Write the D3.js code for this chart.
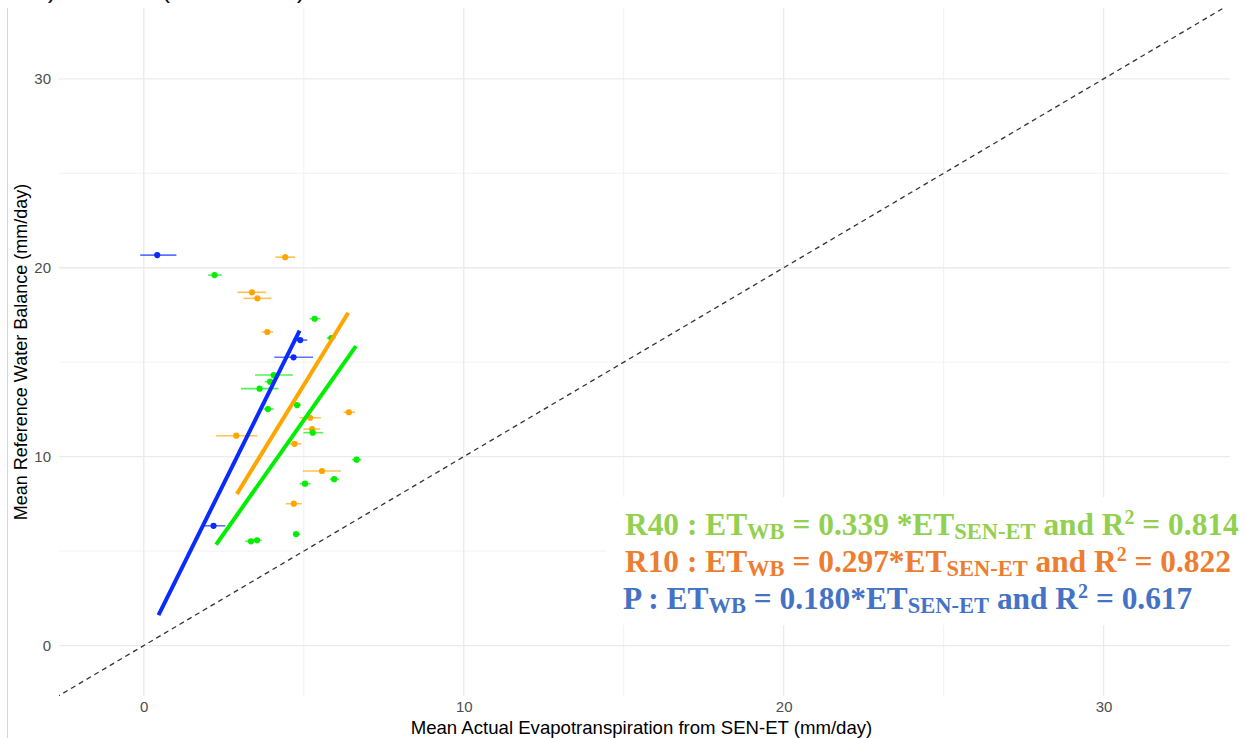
<!DOCTYPE html>
<html>
<head>
<meta charset="utf-8">
<script src="https://cdn.jsdelivr.net/npm/d3@7"></script>
<style>
  html, body { margin: 0; padding: 0; background: #fff; }
  svg { display: block; }
</style>
</head>
<body>
<svg id="chart" width="1246" height="738"></svg>
<script>
// ---- data -------------------------------------------------------------
// P (blue): mean SEN-ET ET, reference water balance ET, x error range
const pX    = [0.42, 4.89, 4.68, 2.18];
const pY    = [20.67, 16.17, 15.26, 6.34];
const pXmin = [-0.11, 4.67, 4.08, 1.82];
const pXmax = [1.02, 5.11, 5.29, 2.55];

// R10 (orange)
const r10X    = [4.42, 3.38, 3.55, 3.86, 6.41, 5.20, 5.26, 2.89, 4.71, 5.57, 4.69];
const r10Y    = [20.56, 18.70, 18.38, 16.60, 12.35, 12.06, 11.46, 11.11, 10.68, 9.24, 7.51];
const r10Xmin = [4.11, 2.93, 3.12, 3.69, 6.24, 4.87, 4.99, 2.26, 4.47, 4.97, 4.44];
const r10Xmax = [4.73, 3.83, 3.99, 4.04, 6.61, 5.54, 5.52, 3.55, 4.93, 6.16, 4.94];

// R40 (green)
const r40X    = [2.21, 5.34, 5.86, 4.06, 3.95, 3.62, 3.88, 4.79, 5.28, 6.65, 5.95, 5.04, 4.76, 3.35, 3.54];
const r40Y    = [19.61, 17.30, 16.28, 14.32, 13.97, 13.60, 12.52, 12.73, 11.27, 9.84, 8.81, 8.57, 5.90, 5.52, 5.57];
const r40Xmin = [2.01, 5.18, 5.72, 3.48, 3.78, 3.04, 3.74, 4.68, 4.99, 6.51, 5.81, 4.87, 4.66, 3.17, 3.41];
const r40Xmax = [2.44, 5.52, 6.00, 4.66, 4.12, 4.21, 4.06, 4.91, 5.60, 6.80, 6.10, 5.21, 4.89, 3.54, 3.69];

// linear fits: [x start, x end] and [y start, y end]
const pFitX   = [0.46, 4.87];
const pFitY   = [1.61, 16.67];
const r10FitX = [2.91, 6.39];
const r10FitY = [8.02, 17.62];
const r40FitX = [2.26, 6.63];
const r40FitY = [5.34, 15.85];

// axes
const xTicks = [0, 10, 20, 30];
const yTicks = [0, 10, 20, 30];
const xMinor = [5, 15, 25];
const yMinor = [5, 15, 25];

const xTitle = "Mean Actual Evapotranspiration from SEN-ET (mm/day)";
const yTitle = "Mean Reference Water Balance (mm/day)";
const plotTitle = "a) All sites (2018-2021)";

// regression equations
const eqNames  = ["R40", "R10", "P"];
const eqSlopes = ["0.339 *", "0.297*", "0.180*"];
const eqR2     = ["0.814", "0.822", "0.617"];

// ---- build ------------------------------------------------------------
const series = [
  { x: r10X, y: r10Y, lo: r10Xmin, hi: r10Xmax, fx: r10FitX, fy: r10FitY, col: "#ffa500", err: "#ffb732" },
  { x: r40X, y: r40Y, lo: r40Xmin, hi: r40Xmax, fx: r40FitX, fy: r40FitY, col: "#00ee00", err: "#33f233" },
  { x: pX,   y: pY,   lo: pXmin,   hi: pXmax,   fx: pFitX,   fy: pFitY,   col: "#0a2bff", err: "#3d5cff" }
];
const eqColors = ["#92d050", "#ed7d31", "#4472c4"];

const svg = d3.select("#chart");
const W = 1246, H = 738;
const panel = { left: 59, right: 1230, top: 8, bottom: 696 };

const x = d3.scaleLinear().domain([-2.65, 33.95]).range([panel.left, panel.right]);
const y = d3.scaleLinear().domain([-2.67, 33.75]).range([panel.bottom, panel.top]);

svg.append("defs").append("clipPath").attr("id", "panel-clip")
  .append("rect")
  .attr("x", panel.left).attr("y", panel.top)
  .attr("width", panel.right - panel.left).attr("height", panel.bottom - panel.top);

// title, mostly above the visible area
svg.append("text")
  .attr("x", 33).attr("y", -2)
  .attr("font-family", "Liberation Sans, Arial, sans-serif")
  .attr("font-size", 26.5)
  .attr("fill", "#111")
  .text(plotTitle);

// outer frame line on the left
svg.append("line")
  .attr("x1", 7.5).attr("x2", 7.5).attr("y1", 8).attr("y2", H)
  .attr("stroke", "#d6d6d6").attr("stroke-width", 1);

// grid
const grid = svg.append("g");
grid.selectAll(".vminor").data(xMinor).join("line")
  .attr("x1", d => x(d)).attr("x2", d => x(d))
  .attr("y1", panel.top).attr("y2", panel.bottom)
  .attr("stroke", "#f2f2f2").attr("stroke-width", 1);
grid.selectAll(".hminor").data(yMinor).join("line")
  .attr("y1", d => y(d)).attr("y2", d => y(d))
  .attr("x1", panel.left).attr("x2", panel.right)
  .attr("stroke", "#f2f2f2").attr("stroke-width", 1);
grid.selectAll(".vmajor").data(xTicks).join("line")
  .attr("x1", d => x(d)).attr("x2", d => x(d))
  .attr("y1", panel.top).attr("y2", panel.bottom)
  .attr("stroke", "#ebebeb").attr("stroke-width", 1.3);
grid.selectAll(".hmajor").data(yTicks).join("line")
  .attr("y1", d => y(d)).attr("y2", d => y(d))
  .attr("x1", panel.left).attr("x2", panel.right)
  .attr("stroke", "#ebebeb").attr("stroke-width", 1.3);

// axes (labels only, as in a minimal theme)
const xAxis = svg.append("g")
  .attr("transform", `translate(0,${panel.bottom})`)
  .call(d3.axisBottom(x).tickValues(xTicks).tickSize(0).tickPadding(5).tickFormat(d3.format("d")));
const yAxis = svg.append("g")
  .attr("transform", `translate(${panel.left - 4},0)`)
  .call(d3.axisLeft(y).tickValues(yTicks).tickSize(0).tickPadding(4).tickFormat(d3.format("d")));
[xAxis, yAxis].forEach(a => {
  a.select(".domain").remove();
  a.selectAll("text")
    .attr("font-family", "Liberation Sans, Arial, sans-serif")
    .attr("font-size", 15)
    .attr("fill", "#4d4d4d");
});

// axis titles
svg.append("text")
  .attr("x", (panel.left + panel.right) / 2 - 3).attr("y", 734)
  .attr("text-anchor", "middle")
  .attr("font-family", "Liberation Sans, Arial, sans-serif")
  .attr("font-size", 18.6).attr("fill", "#000")
  .text(xTitle);
svg.append("text")
  .attr("transform", `translate(27,${(panel.top + panel.bottom) / 2}) rotate(-90)`)
  .attr("text-anchor", "middle")
  .attr("font-family", "Liberation Sans, Arial, sans-serif")
  .attr("font-size", 18).attr("fill", "#000")
  .text(yTitle);

const plot = svg.append("g").attr("clip-path", "url(#panel-clip)");

// 1:1 line
plot.append("line")
  .attr("x1", x(-3)).attr("y1", y(-3))
  .attr("x2", x(35)).attr("y2", y(35))
  .attr("stroke", "#333").attr("stroke-width", 1.3)
  .attr("stroke-dasharray", "5,4");

// error bars and points
series.forEach(s => {
  const idx = d3.range(s.x.length);
  plot.append("g").selectAll("line").data(idx).join("line")
    .attr("x1", i => x(s.lo[i])).attr("x2", i => x(s.hi[i]))
    .attr("y1", i => y(s.y[i])).attr("y2", i => y(s.y[i]))
    .attr("stroke", s.err).attr("stroke-width", 1.6).attr("opacity", 0.85);
  plot.append("g").selectAll("circle").data(idx).join("circle")
    .attr("cx", i => x(s.x[i])).attr("cy", i => y(s.y[i]))
    .attr("r", 3.1).attr("fill", s.col);
});

// fitted lines
const fitLine = d3.line().x(d => x(d[0])).y(d => y(d[1]));
[series[2], series[0], series[1]].forEach(s => {
  plot.append("path")
    .attr("d", fitLine([[s.fx[0], s.fy[0]], [s.fx[1], s.fy[1]]]))
    .attr("stroke", s.col).attr("stroke-width", 4).attr("fill", "none");
});

// equation box
svg.append("rect")
  .attr("x", 606).attr("y", 497).attr("width", W - 606).attr("height", 128)
  .attr("fill", "#fff");

const eqBaselines = [535, 572, 609];
const eqX = [625, 625, 623];
const eq = svg.append("g")
  .attr("font-family", "Liberation Serif, Times New Roman, serif")
  .attr("font-weight", "bold")
  .attr("font-size", 31.4);

eqNames.forEach((name, i) => {
  const t = eq.append("text")
    .attr("x", eqX[i]).attr("y", eqBaselines[i])
    .attr("fill", eqColors[i]);
  t.append("tspan").text(`${name} : ET`);
  t.append("tspan").attr("font-size", 22.5).attr("dy", 4).text("WB");
  t.append("tspan").attr("dy", -4).text(` = ${eqSlopes[i]}ET`);
  t.append("tspan").attr("font-size", 22.5).attr("dy", 4).text("SEN-ET");
  t.append("tspan").attr("dy", -4).text(" and R");
  t.append("tspan").attr("font-size", 20).attr("dy", -11).text("2");
  t.append("tspan").attr("dy", 11).text(` = ${eqR2[i]}`);
});
</script>
</body>
</html>
